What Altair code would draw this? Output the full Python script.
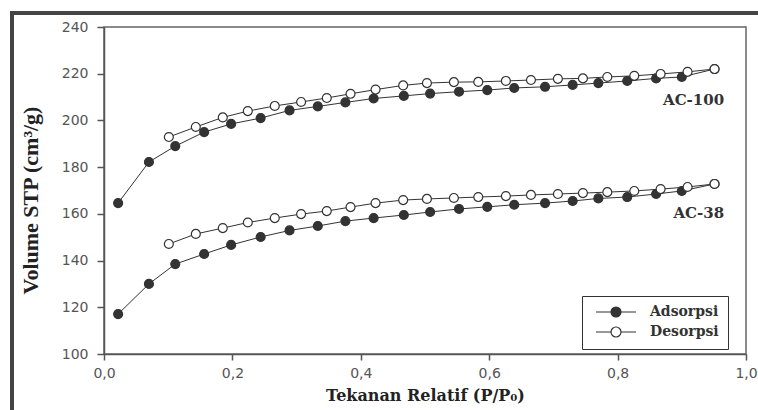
import altair as alt
import pandas as pd

# Relative pressure (P/P0) for the adsorption and desorption branches
x_ads = [0.022, 0.070, 0.111, 0.156, 0.198, 0.244, 0.289, 0.333, 0.376, 0.420, 0.467,
         0.508, 0.553, 0.597, 0.639, 0.687, 0.730, 0.770, 0.815, 0.860, 0.900, 0.951]
x_des = [0.101, 0.143, 0.185, 0.224, 0.266, 0.307, 0.347, 0.384, 0.423, 0.466, 0.503,
         0.545, 0.583, 0.626, 0.665, 0.707, 0.746, 0.784, 0.826, 0.867, 0.909, 0.951]

# Volume STP (cm3/g)
ac100_ads = [164.6, 182.2, 189.0, 195.0, 198.5, 201.0, 204.3, 206.0, 207.7, 209.4, 210.5,
             211.5, 212.3, 213.0, 213.9, 214.4, 215.2, 216.0, 216.9, 218.0, 218.6, 222.0]
ac100_des = [192.9, 197.2, 201.3, 204.0, 206.2, 207.9, 209.6, 211.4, 213.2, 215.0, 216.0,
             216.4, 216.5, 216.9, 217.3, 217.8, 218.0, 218.6, 219.1, 219.9, 220.8, 222.0]
ac38_ads = [117.1, 130.0, 138.5, 142.8, 146.7, 150.1, 152.9, 154.8, 156.9, 158.2, 159.5,
            160.8, 162.1, 163.0, 163.9, 164.6, 165.5, 166.6, 167.2, 168.5, 169.8, 172.8]
ac38_des = [147.1, 151.4, 153.9, 156.3, 158.2, 159.9, 161.2, 162.9, 164.6, 165.9, 166.4,
            166.8, 167.2, 167.6, 168.1, 168.5, 168.9, 169.3, 169.8, 170.6, 171.5, 172.8]

branch_names = ["Adsorpsi", "Desorpsi"]
sample_names = ["AC-100", "AC-38"]
x_ticks = [0.0, 0.2, 0.4, 0.6, 0.8, 1.0]
y_ticks = [100, 120, 140, 160, 180, 200, 220, 240]

# sample label annotations
label_text = ["AC-100", "AC-38"]
label_x = [0.966, 0.966]
label_y = [208.7, 160.4]

rows = []
for sample, ads, des in [("AC-100", ac100_ads, ac100_des), ("AC-38", ac38_ads, ac38_des)]:
    for xv, yv in zip(x_ads, ads):
        rows.append({"x": xv, "y": yv, "sample": sample, "branch": "Adsorpsi", "series": sample + " ads"})
for sample, ads, des in [("AC-100", ac100_ads, ac100_des), ("AC-38", ac38_ads, ac38_des)]:
    for xv, yv in zip(x_des, des):
        rows.append({"x": xv, "y": yv, "sample": sample, "branch": "Desorpsi", "series": sample + " des"})
df = pd.DataFrame(rows)
labels_df = pd.DataFrame({"text": label_text, "x": label_x, "y": label_y})

INK = "#333333"
xscale = alt.Scale(domain=[0, 1], nice=False, zero=False)
yscale = alt.Scale(domain=[100, 240], nice=False, zero=False)

x_enc = alt.X(
    "x:Q", scale=xscale,
    axis=alt.Axis(
        values=x_ticks, labelExpr="replace(format(datum.value, '.1f'), '.', ',')",
        labelFlush=False, tickSize=6, labelPadding=6,
        title="Tekanan Relatif (P/P\u2080)", titleFont="DejaVu Serif", titleFontWeight="bold",
        titleFontSize=16, titleColor="#222222", titleBaseline="middle", titleY=41,
    ),
)
y_enc = alt.Y(
    "y:Q", scale=yscale,
    axis=alt.Axis(
        values=y_ticks, tickSize=7, labelPadding=9,
        title="Volume STP (cm\u00b3/g)", titleFont="Liberation Serif", titleFontWeight="bold",
        titleFontSize=22, titleColor="#222222", titleBaseline="middle", titleAlign="center",
        titleX=-74, titleY=173, titleAngle=270,
    ),
)

lines = alt.Chart(df).mark_line(color=INK, strokeWidth=1).encode(
    x=x_enc, y=y_enc, detail="series:N"
)

legend_path = "M-4,0L-1,0M1,0L4,0M-1,0A1,1,0,1,0,1,0A1,1,0,1,0,-1,0Z"
points = alt.Chart(df).mark_point(filled=True, size=80, stroke=INK, strokeWidth=1.2, opacity=1).encode(
    x="x:Q", y="y:Q",
    fill=alt.Fill(
        "branch:N",
        scale=alt.Scale(domain=branch_names, range=[INK, "#ffffff"]),
        legend=alt.Legend(
            title=None, orient="none", legendX=478, legendY=269,
            symbolType=legend_path, symbolSize=100, symbolStrokeColor=INK, symbolStrokeWidth=1.2,
            symbolOffset=18, labelOffset=27,
            labelFont="DejaVu Serif", labelFontWeight="bold", labelFontSize=14, labelColor=INK,
            strokeColor=INK, fillColor="#ffffff", padding=9, rowPadding=4,
        ),
    ),
)

texts = alt.Chart(labels_df).mark_text(
    align="right", baseline="middle", font="DejaVu Serif", fontWeight="bold", fontSize=15, color=INK
).encode(x="x:Q", y="y:Q", text="text:N")

one = alt.Data(values=[{"a": 1}])
frame_left = alt.Chart(one).mark_rule(color="#444444", strokeWidth=4).encode(
    x=alt.value(-92), y=alt.value(-16), y2=alt.value(400)
)
frame_top = alt.Chart(one).mark_rule(color="#444444", strokeWidth=4).encode(
    y=alt.value(-14), x=alt.value(-94), x2=alt.value(700)
)

chart = alt.layer(frame_left, frame_top, lines, points, texts).properties(
    width=642, height=327,
    autosize=alt.AutoSizeParams(type="none"),
    padding={"left": 104, "top": 27, "right": 12, "bottom": 56},
    background="#ffffff",
).configure_view(
    stroke="#666666", strokeWidth=1.5
).configure_axis(
    grid=False, domainColor="#555555", domainWidth=1.5, tickColor="#555555", tickWidth=1.5,
    labelFont="DejaVu Sans", labelFontSize=14, labelColor="#555555",
)

chart.save("out.html", embed_options={"renderer": "svg", "actions": False})
